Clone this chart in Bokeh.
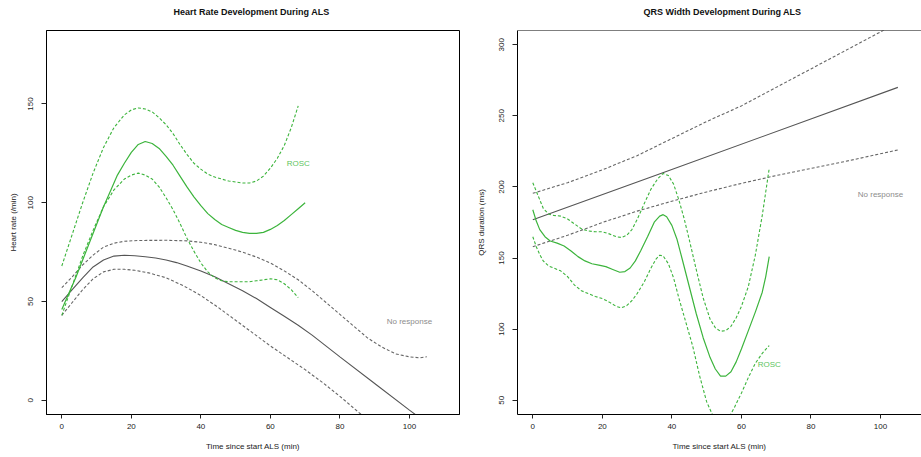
from bokeh.plotting import figure
from bokeh.layouts import row
from bokeh.models import FixedTicker, Title, Span
from bokeh.embed import file_html
from bokeh.resources import INLINE
from bokeh.core.properties import value

# ---------------- Heart rate panel data ----------------
hr_rosc_t = [0, 2, 4, 6, 8, 10, 12, 14, 16, 18, 20, 22, 24, 26, 28, 30, 32, 34, 36, 38, 40,
             42, 44, 46, 48, 50, 52, 54, 56, 58, 60, 62, 64, 66, 68, 70]
hr_rosc_fit = [46, 54, 62, 71, 80, 89, 98, 106, 114, 120, 125.5, 129.5, 131, 130, 127.5, 123.5,
               119, 113.5, 108, 103, 98.5, 94.5, 91.5, 89, 87.5, 86, 85, 84.5, 84.5, 85, 86.5,
               88.5, 91, 94, 97, 100]

hr_rosc_up_t = [0, 3, 6, 9, 12, 15, 18, 20, 22, 24, 26, 28, 30, 32, 34, 36, 38, 40, 42, 44, 46,
                48, 50, 52, 54, 56, 58, 60, 62, 64, 66, 68]
hr_rosc_up = [68, 84, 100, 115, 128, 138, 144.5, 147, 148, 147.5, 146, 143, 139.5, 135, 129.5,
              124.5, 120, 117, 114.5, 113, 112, 111, 110.5, 110, 110, 111, 113.5, 117.5, 122.5,
              129, 138, 149]

hr_rosc_lo_t = [0, 3, 6, 9, 12, 15, 18, 20, 22, 24, 26, 28, 30, 32, 34, 36, 38, 40, 42, 44, 46,
                48, 50, 52, 54, 56, 58, 60, 62, 64, 66, 68]
hr_rosc_lo = [43, 58, 73, 86, 98, 106.5, 112, 114, 115, 114, 112, 108, 102.5, 96.5, 89.5, 82,
              75.5, 69.5, 65, 62, 60.5, 60, 60, 60, 60, 60.5, 61, 61.5, 61, 59, 56, 52]

hr_nr_t = [0, 3, 6, 9, 12, 15, 18, 21, 24, 27, 30, 33, 36, 40, 44, 48, 52, 56, 60, 64, 68, 72,
           80, 90, 100, 105]
hr_nr_fit = [50, 56, 62, 67.5, 71, 73, 73.4, 73.2, 72.7, 72, 71, 69.7, 68, 65.5, 62.5, 59, 55.5,
             51.5, 47, 42.5, 38, 33, 22, 8.5, -5, -11.5]

hr_nr_up_t = [0, 3, 6, 9, 12, 15, 18, 22, 30, 36, 40, 44, 48, 52, 56, 60, 64, 68, 72, 76, 80,
              84, 88, 92, 96, 100, 103, 105]
hr_nr_up = [57, 62.5, 68.5, 73.5, 77.5, 79.5, 80.5, 80.9, 81, 80.7, 80, 78.8, 77, 75, 72.5, 69.5,
            65.5, 61, 55.5, 49.5, 43.5, 37.5, 31.5, 27, 23.5, 22, 21.5, 22]

hr_nr_lo_t = [0, 3, 6, 9, 12, 15, 18, 21, 25, 30, 35, 40, 45, 50, 55, 60, 65, 70, 75, 80, 85,
              90, 95, 100, 105]
hr_nr_lo = [43, 49.5, 56, 61.5, 65, 66.3, 66.3, 65.8, 64.5, 62, 58, 53, 47, 40.5, 34, 27.5,
            21.5, 15.5, 9, 2, -5.5, -13, -20, -27, -34]

hr_label_x = [68, 100]
hr_label_y = [120, 40]

# ---------------- QRS panel data ----------------
qrs_nr_t = [0, 37.4, 105]
qrs_nr_fit = [177, 210, 270]

qrs_nr_up_t = [0, 10, 20, 30, 40, 50, 60, 70, 80, 90, 100, 105]
qrs_nr_up = [195.5, 203, 212, 222, 234, 246, 257, 270, 283, 296, 309, 316]

qrs_nr_lo_t = [0, 10, 20, 30, 40, 50, 60, 70, 80, 90, 105]
qrs_nr_lo = [158, 166, 175, 183, 190, 196.5, 202.5, 208, 213, 218, 226]

qrs_rosc_t = [0, 1, 2, 3.5, 5, 7, 9, 11, 13, 15, 17, 19, 21, 23, 25, 26.5, 28, 29.5, 31, 33, 35,
              36.5, 37.5, 38.5, 40, 41.5, 43, 45, 47, 49, 51, 52.5, 54, 55.5, 57, 58.5, 60, 62,
              64, 66, 67, 68]
qrs_rosc_fit = [184, 176, 170, 165, 162, 160.5, 158.5, 155, 151, 148, 146, 145, 144, 142, 140,
                140.5, 143, 148, 155, 165, 175.5, 179.5, 180.5, 179, 173, 163, 149, 130, 111, 94,
                80, 72, 67, 67, 70, 77, 86, 99, 112, 126, 137, 151]

qrs_rosc_up_t = [0, 1, 2, 3, 4.5, 6, 8, 10, 12, 14, 16, 18, 20, 22, 24, 25.5, 27, 28.5, 30, 32,
                 34, 36, 37.5, 39, 40.5, 42, 43.5, 45, 47, 49, 51, 52.5, 54, 55.5, 57, 58.5, 60,
                 62, 64, 66, 68]
qrs_rosc_up = [203, 197, 191, 185, 181, 180, 179.5, 177.5, 174, 170.5, 169, 168.5, 168.5, 167,
               165, 164.5, 166, 170, 177, 188, 198.5, 206, 209.5, 208, 202, 191, 178, 163, 142,
               122, 107, 101, 98.5, 99, 102, 108, 116, 130, 152, 180, 213]

qrs_rosc_lo_t = [0, 1, 2, 3, 4.5, 6, 8, 10, 12, 14, 16, 18, 20, 22, 24, 25.5, 27, 28.5, 30, 32,
                 34, 35.5, 36.5, 37.5, 39, 40.5, 42, 44, 46, 48, 50, 52, 54, 56, 58, 60, 62, 64,
                 66, 68]
qrs_rosc_lo = [165, 158, 152.5, 148, 144.5, 143, 141, 137, 131, 127, 125, 123, 121.5, 119, 116,
               115, 116.5, 120, 125, 133, 143, 149.5, 152, 151.5, 146, 136, 122, 105, 88, 67, 49,
               38, 34, 36, 45, 55, 66, 76, 83, 88.5]

qrs_label_x = [100, 68]
qrs_label_y = [195, 75]

x_ticks = [0, 20, 40, 60, 80, 100]
hr_y_ticks = [0, 50, 100, 150]
qrs_y_ticks = [50, 100, 150, 200, 250, 300]
label_texts_hr = ["ROSC", "No response"]
label_texts_qrs = ["No response", "ROSC"]

FONT = "Liberation Sans"
GREEN = "#3cb43c"
GREEN_TXT = "#5cc45c"
GRAY_SOLID = "#555555"
GRAY_DASH = "#666666"
GRAY_TXT = "#8c8c8c"
DASH = "3 2"


def style_axes(p, xlab, ylab, yticks, ylab_standoff):
    p.xaxis.ticker = FixedTicker(ticks=x_ticks)
    p.yaxis.ticker = FixedTicker(ticks=yticks)
    p.xgrid.visible = False
    p.ygrid.visible = False
    for ax in (p.xaxis[0], p.yaxis[0]):
        ax.minor_tick_line_color = None
        ax.major_tick_in = 0
        ax.major_label_text_font = FONT
        ax.major_label_text_font_size = "8px"
        ax.major_label_text_color = "#222222"
        ax.axis_label_text_font = FONT
        ax.axis_label_text_font_size = "8px"
        ax.axis_label_text_font_style = "normal"
        ax.axis_label_text_color = "#222222"
        ax.axis_line_color = "black"
        ax.major_tick_line_color = "#222222"
    p.xaxis.major_tick_out = 4
    p.yaxis.major_tick_out = 5
    p.xaxis.major_label_standoff = 5
    p.yaxis.major_label_standoff = 8
    p.xaxis.axis_label = xlab
    p.yaxis.axis_label = ylab
    p.xaxis.axis_label_standoff = 10
    p.yaxis.axis_label_standoff = ylab_standoff
    p.yaxis.major_label_orientation = "vertical"


def add_title(p, text, xoff):
    # trailing empty line lifts the title to where the reference places it
    t = Title(text=text + "\n ", align="left", offset=xoff, standoff=8,
              vertical_align="bottom",
              text_font=FONT, text_font_size="9px", text_font_style="bold",
              text_color="#111111")
    p.add_layout(t, "above")


# ---------------- Left figure ----------------
p1 = figure(width=465, height=457, x_range=(-4.4, 114.4), y_range=(-7.2, 187.2),
            output_backend="svg", toolbar_location=None,
            min_border_left=46, min_border_right=6, min_border_top=30, min_border_bottom=43)
p1.outline_line_color = "black"
p1.outline_line_width = 1
p1.background_fill_color = "white"
p1.border_fill_color = "white"
style_axes(p1, "Time since start ALS (min)", "Heart rate (/min)", hr_y_ticks, 8)
add_title(p1, "Heart Rate Development During ALS", 127)

p1.line(hr_nr_t, hr_nr_fit, line_color=GRAY_SOLID, line_width=1.1)
p1.line(hr_nr_up_t, hr_nr_up, line_color=GRAY_DASH, line_width=1.1, line_dash=DASH)
p1.line(hr_nr_lo_t, hr_nr_lo, line_color=GRAY_DASH, line_width=1.1, line_dash=DASH)
p1.line(hr_rosc_t, hr_rosc_fit, line_color=GREEN, line_width=1.2)
p1.line(hr_rosc_up_t, hr_rosc_up, line_color=GREEN, line_width=1.1, line_dash=DASH)
p1.line(hr_rosc_lo_t, hr_rosc_lo, line_color=GREEN, line_width=1.1, line_dash=DASH)
p1.text(x=hr_label_x, y=hr_label_y, text=label_texts_hr,
        text_color=[GREEN_TXT, GRAY_TXT], text_font=value(FONT), text_font_size="8px",
        text_align="center", text_baseline="middle")

# ---------------- Right figure ----------------
p2 = figure(width=456, height=457, x_range=(-4.4, 111.8), y_range=(40, 310),
            output_backend="svg", toolbar_location=None,
            min_border_left=52, min_border_right=0, min_border_top=30, min_border_bottom=43)
p2.outline_line_color = None
p2.background_fill_color = "white"
p2.border_fill_color = "white"
style_axes(p2, "Time since start ALS (min)", "QRS duration (ms)", qrs_y_ticks, 11)
add_title(p2, "QRS Width Development During ALS", 126)
p2.add_layout(Span(location=310, dimension="width", line_color="black", line_width=1))

p2.line(qrs_nr_t, qrs_nr_fit, line_color=GRAY_SOLID, line_width=1.1)
p2.line(qrs_nr_up_t, qrs_nr_up, line_color=GRAY_DASH, line_width=1.1, line_dash=DASH)
p2.line(qrs_nr_lo_t, qrs_nr_lo, line_color=GRAY_DASH, line_width=1.1, line_dash=DASH)
p2.line(qrs_rosc_t, qrs_rosc_fit, line_color=GREEN, line_width=1.2)
p2.line(qrs_rosc_up_t, qrs_rosc_up, line_color=GREEN, line_width=1.1, line_dash=DASH)
p2.line(qrs_rosc_lo_t, qrs_rosc_lo, line_color=GREEN, line_width=1.1, line_dash=DASH)
p2.text(x=qrs_label_x, y=qrs_label_y, text=label_texts_qrs,
        text_color=[GRAY_TXT, GREEN_TXT], text_font=value(FONT), text_font_size="8px",
        text_align="center", text_baseline="middle")

layout = row(p1, p2)
open("out.html", "w").write(file_html(layout, INLINE))
